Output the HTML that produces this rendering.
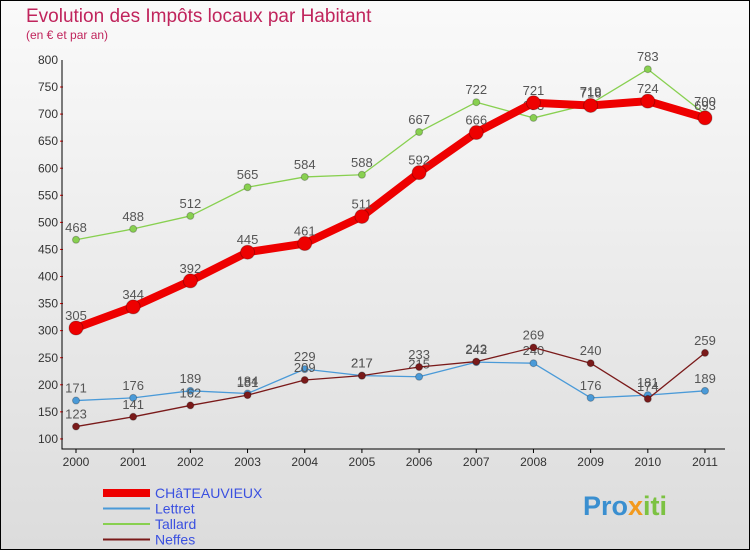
<!DOCTYPE html>
<html><head><meta charset="utf-8"><style>
body{margin:0;width:750px;height:550px;overflow:hidden;font-family:"Liberation Sans",sans-serif}
</style></head><body>
<svg width="750" height="550" xmlns="http://www.w3.org/2000/svg">
<defs><linearGradient id="bg" x1="0" y1="0" x2="0" y2="1"><stop offset="0" stop-color="#fafafa"/><stop offset="1" stop-color="#dcdcdc"/></linearGradient></defs>
<rect x="0.5" y="0.5" width="749" height="549" fill="url(#bg)" stroke="#000"/>
<text x="26" y="22" font-size="19" fill="#c0245c">Evolution des Impôts locaux par Habitant</text>
<text x="26" y="39" font-size="12" fill="#c0245c">(en € et par an)</text>
<g id="axes"></g>
<g id="series"></g>
<g id="legend"></g>
<text x="583" y="515" font-size="27" font-weight="bold" fill="#3a8fd0">Pro<tspan fill="#f39a1e">x</tspan><tspan fill="#7cc242">iti</tspan></text>
</svg>
<script>
const years=[2000,2001,2002,2003,2004,2005,2006,2007,2008,2009,2010,2011];
const yTicks=[100,150,200,250,300,350,400,450,500,550,600,650,700,750,800];
const chateauvieux=[305,344,392,445,461,511,592,666,721,716,724,693];
const lettret=[171,176,189,184,229,217,215,242,240,176,181,189];
const tallard=[468,488,512,565,584,588,667,722,693,719,783,700];
const neffes=[123,141,162,181,209,217,233,243,269,240,174,259];
const NS="http://www.w3.org/2000/svg";
const X0=76,X1=705,Y0=439,Y1=60;
const xs=i=>X0+(X1-X0)*i/(years.length-1);
const ys=v=>Y0-(v-100)/(800-100)*(Y0-Y1);
function mk(t,a,p){const e=document.createElementNS(NS,t);for(const k in a)e.setAttribute(k,a[k]);p.appendChild(e);return e;}
const ax=document.getElementById('axes');
yTicks.forEach(v=>{
 const t=mk('text',{x:58,y:ys(v)+4,'font-size':12,'text-anchor':'end',fill:'#333'},ax);
 
 
 t.textContent=v;
 if(v>100){
 const m=mk('line',{x1:60,x2:63,y1:ys(v)+27,y2:ys(v)+27,stroke:'#e00'},ax);
 
 
 }
});
const axl=mk('path',{d:`M62 ${Y1} V${Y0+10} H${X1+20}`,stroke:'#000',fill:'none'},ax);


years.forEach((y,i)=>{
 const t=mk('text',{x:xs(i),y:466,'font-size':12,'text-anchor':'middle',fill:'#333'},ax);
 
 
 t.textContent=y;
 const m=mk('line',{x1:xs(i),x2:xs(i),y1:Y0+10,y2:Y0+14,stroke:'#000'},ax);
 
 
});
const sg=document.getElementById('series');
const defs=[
 {name:'tallard',vals:tallard,c:'#88d050',w:1.3,r:3.5},
 {name:'lettret',vals:lettret,c:'#4a9ad8',w:1.3,r:3.5},
 {name:'neffes',vals:neffes,c:'#7a1a1a',w:1.3,r:3.5},
 {name:'chateauvieux',vals:chateauvieux,c:'#ee0000',w:8,r:7}
];
defs.forEach(s=>{
 const g=mk('g',{},sg);
 
 
 const l=mk('polyline',{points:s.vals.map((v,i)=>xs(i)+','+ys(v)).join(' '),fill:'none',stroke:s.c,'stroke-width':s.w,'stroke-linejoin':'round'},g);
 
 
 s.vals.forEach((v,i)=>{
  const p=mk('circle',{cx:xs(i),cy:ys(v),r:s.r,fill:s.c,stroke:'rgba(0,0,0,0.25)'},g);
  
  
  const t=mk('text',{x:xs(i),y:ys(v)-8,'font-size':13,'text-anchor':'middle',fill:'#555'},g);
  
  
  t.textContent=v;
 });
});
const lg=document.getElementById('legend');
[['CHâTEAUVIEUX','#ee0000',8],['Lettret','#4a9ad8',2],['Tallard','#88d050',2],['Neffes','#7a1a1a',2]].forEach((d,i)=>{
 const y=493+i*15.5;
 const l=mk('line',{x1:103,x2:150,y1:y,y2:y,stroke:d[1],'stroke-width':d[2]},lg);
 
 
 const t=mk('text',{x:155,y:y+5,'font-size':14,fill:'#3a50e0'},lg);
 
 
 t.textContent=d[0];
});
</script>
</body></html>
